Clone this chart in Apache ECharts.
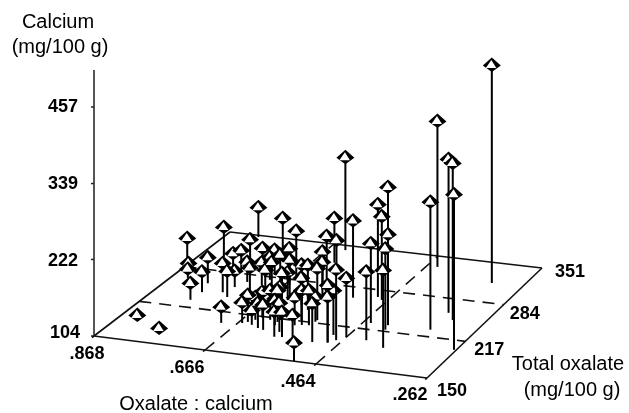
<!DOCTYPE html>
<html>
<head>
<meta charset="utf-8">
<title>Calcium vs oxalate</title>
<script src="https://cdn.jsdelivr.net/npm/echarts@6/dist/echarts.min.js"></script>
<style>
  html, body { margin: 0; padding: 0; background: #fff; }
  #chart { width: 629px; height: 413px; }
</style>
</head>
<body>
<div id="chart"></div>
<script>
// values
const ratio = [.321,.444,.340,.320,.266,.340,.418,.487,.475,.418,.414,.385,.450,.426,.464,.527,.627,.634,.715,.656,
  .591,.623,.475,.485,.489,.484,.504,.593,.543,.578,.657,.637,.630,.569,.559,.547,.543,.510,.570,.545,
  .604,.568,.581,.582,.809,.824,.867,.853,.839,.789,.795,.786,.752,.735,.743,.781,.763,.770,.712,.733,
  .843,.782,.693,.736,.700,.677,.702,.666,.659,.652,.644,.612,.620,.604,.624,.637,.640,.673,.703,.630,
  .602,.573,.598];
const totalOxalate = [317,333,260,249,201,229,228,272,268,228,220,190,228,199,200,266,320,343,311,284,
  278,320,193,188,201,187,150,273,222,237,274,258,240,219,211,212,219,185,209,184,
  215,187,186,195,348,308,287,278,266,230,261,245,249,242,260,288,286,305,258,271,
  194,177,198,297,279,253,288,254,202,205,210,195,213,211,197,215,201,273,269,249,
  205,256,244];
const calcium = [440,329,341,346,344,301,317,247,233,244,229,224,227,210,195,223,173,247,172,180,
  183,139,213,192,173,175,133,163,184,173,161,158,153,169,158,158,143,164,147,143,
  155,143,143,149,150,150,146,116,118,130,144,136,149,144,129,130,138,139,139,135,
  104,104,129,135,139,143,143,155,136,146,139,143,150,153,143,144,127,150,139,147,
  143,163,166];

const ratioTicks = [.868,.666,.464,.262];
const ratioTickLabels = ['.868','.666','.464','.262'];
const oxalateTicks = [150,217,284,351];
const calciumTicks = [104,222,339,457];

// floor corners on screen: front-left, front-right, back-right, back-left
const floor = [[94,336],[427,378],[542,268],[230,232]];
const pxPerCalcium = 229 / 353;

function project(r, o, c) {
  const u = (.868 - r) / .606, v = (o - 150) / 201;
  const w = [(1-u)*(1-v), u*(1-v), u*v, (1-u)*v];
  const x = w[0]*floor[0][0] + w[1]*floor[1][0] + w[2]*floor[2][0] + w[3]*floor[3][0];
  const y = w[0]*floor[0][1] + w[1]*floor[1][1] + w[2]*floor[2][1] + w[3]*floor[3][1];
  return [x, y - (c - 104) * pxPerCalcium];
}

// floor frame and dashed grid, one row per line
const frameLines = [];
ratioTicks.forEach((r, i) => {
  const edge = i === 0 || i === 3;
  frameLines.push([r, 150, r, 351, edge ? 0 : 1]);
  frameLines.push([r, 150, r, 147, 0]);
});
oxalateTicks.forEach((o, i) => {
  const edge = i === 0 || i === 3;
  frameLines.push([.868, o, .262, o, edge ? 0 : 1]);
});

// back to front so the nearer needles cover the ones behind
const needles = ratio.map((r, i) => [r, totalOxalate[i], calcium[i]])
  .sort((a, b) => project(a[0], a[1], 104)[1] - project(b[0], b[1], 104)[1]);

const chart = echarts.init(document.getElementById('chart'), null, { renderer: 'canvas' });

const tickFont = 'bold 18px "Liberation Sans", Arial, sans-serif';
const titleFont = '20px "Liberation Sans", Arial, sans-serif';
const ratioOffset = [[-7,18],[-18,18],[-18,18],[-17,17]];
const oxalateOffset = [[10,13],[9,9],[6,9],[13,4]];

function label(text, x, y, font, align) {
  return { type: 'text', silent: true, style: { text, x, y, font, fill: '#000', textAlign: align || 'center', textVerticalAlign: 'middle' } };
}

const labels = [
  label('Calcium', 58, 22, titleFont),
  label('(mg/100 g)', 60, 47, titleFont),
  label('Total oxalate', 568, 364, titleFont),
  label('(mg/100 g)', 572, 390, titleFont),
  label('Oxalate : calcium', 196, 404, titleFont),
];
calciumTicks.forEach((c) => {
  const p = project(.868, 150, c);
  labels.push(label(String(c), c === 104 ? 80 : 78, c === 104 ? p[1] - 3 : p[1] + (c === 222 ? 2 : 0), tickFont, 'right'));
});
ratioTicks.forEach((r, i) => {
  const p = project(r, 150, 104);
  labels.push(label(ratioTickLabels[i], p[0] + ratioOffset[i][0], p[1] + ratioOffset[i][1], tickFont));
});
oxalateTicks.forEach((o, i) => {
  const p = project(.262, o, 104);
  labels.push(label(String(o), p[0] + oxalateOffset[i][0], p[1] + oxalateOffset[i][1], tickFont, 'left'));
});

chart.setOption({
  animation: false,
  backgroundColor: '#fff',
  grid: { left: 0, right: 0, top: 0, bottom: 0 },
  xAxis: { type: 'value', min: 0, max: 629, show: false },
  yAxis: { type: 'value', min: 0, max: 413, inverse: true, show: false },
  graphic: labels,
  series: [
    {
      // calcium axis
      type: 'custom', silent: true, coordinateSystem: 'cartesian2d',
      data: calciumTicks,
      renderItem(params, api) {
        const c = api.value(0);
        const p = api.coord(project(.868, 150, c));
        const children = [{ type: 'line', shape: { x1: p[0] - 3, y1: p[1], x2: p[0], y2: p[1] }, style: { stroke: '#222', lineWidth: 1.5 } }];
        if (params.dataIndex === 0) {
          const top = api.coord(project(.868, 150, 514));
          children.push({ type: 'line', shape: { x1: p[0], y1: p[1], x2: top[0], y2: top[1] }, style: { stroke: '#555', lineWidth: 2 } });
        }
        return { type: 'group', children };
      },
    },
    {
      // floor
      type: 'custom', silent: true, coordinateSystem: 'cartesian2d',
      data: frameLines,
      renderItem(params, api) {
        const a = api.coord(project(api.value(0), api.value(1), 104));
        const b = api.coord(project(api.value(2), api.value(3), 104));
        return {
          type: 'line',
          shape: { x1: a[0], y1: a[1], x2: b[0], y2: b[1] },
          style: { stroke: '#111', lineWidth: 1.6, lineDash: api.value(4) ? [12, 8] : null },
        };
      },
    },
    {
      // needles with the pyramid marker on top
      type: 'custom', silent: true, coordinateSystem: 'cartesian2d',
      data: needles,
      renderItem(params, api) {
        const r = api.value(0), o = api.value(1), c = api.value(2);
        const base = api.coord(project(r, o, 104));
        const top = api.coord(project(r, o, c));
        const x = top[0], y = top[1];
        return {
          type: 'group',
          children: [
            { type: 'line', shape: { x1: base[0], y1: base[1], x2: x, y2: y }, style: { stroke: '#000', lineWidth: 2 } },
            { type: 'polygon', shape: { points: [[x, y - 7.5], [x + 9, y + 0.5], [x, y + 7], [x - 9, y + 0.5]] }, style: { fill: '#000' } },
            { type: 'polygon', shape: { points: [[x - 0.5, y - 5], [x + 4.5, y + 3], [x - 6, y + 3]] }, style: { fill: '#fff' } },
          ],
        };
      },
    },
  ],
});
</script>
</body>
</html>
